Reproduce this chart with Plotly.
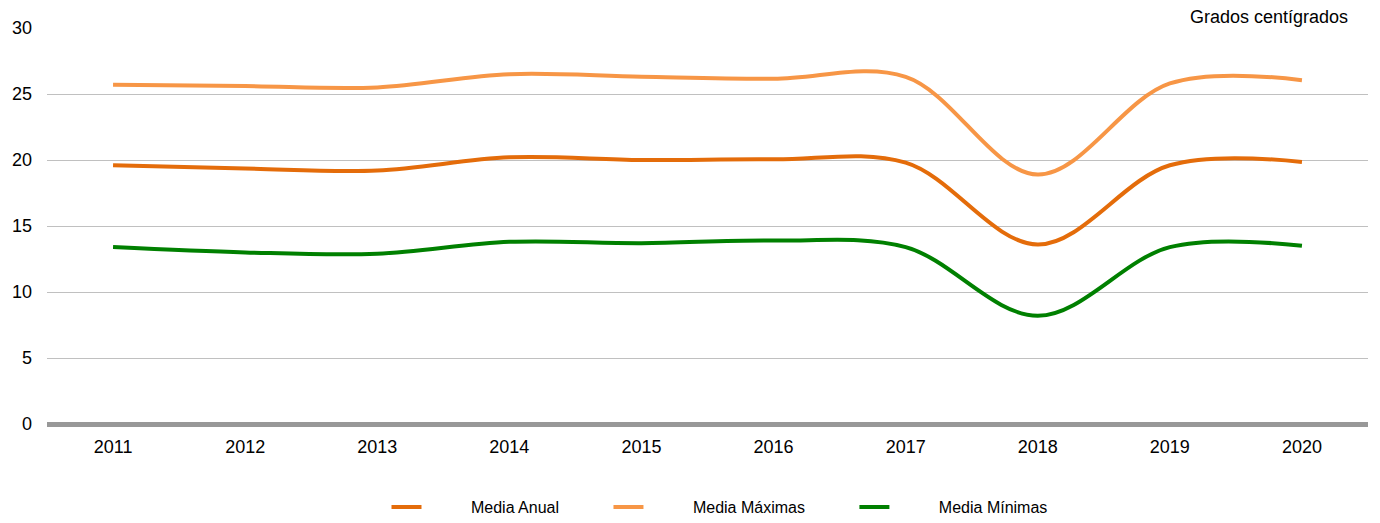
import plotly.graph_objects as go

years = ["2011", "2012", "2013", "2014", "2015", "2016", "2017", "2018", "2019", "2020"]
media_anual = [19.6, 19.35, 19.2, 20.2, 20.0, 20.05, 19.8, 13.6, 19.6, 19.85]
media_maximas = [25.7, 25.6, 25.5, 26.5, 26.3, 26.15, 26.3, 18.9, 25.8, 26.05]
media_minimas = [13.4, 13.0, 12.9, 13.8, 13.7, 13.9, 13.4, 8.2, 13.4, 13.5]

series = [
    ("Media Anual", media_anual, "#E46C0A"),
    ("Media Máximas", media_maximas, "#F79646"),
    ("Media Mínimas", media_minimas, "#008000"),
]

W, H = 1372, 515  # page body adds an 8px margin

NB = "\u00a0"
fig = go.Figure()
for name, vals, color in series:
    fig.add_trace(go.Scatter(
        x=years, y=vals, name=NB * 10 + name + NB * 10, mode="lines",
        line=dict(color=color, width=4, shape="spline", smoothing=1.0),
    ))

fig.update_layout(
    width=W, height=H,
    margin=dict(l=39, r=12, t=20, b=99, autoexpand=False),
    paper_bgcolor="white", plot_bgcolor="white",
    font=dict(family="Liberation Sans, Arial, sans-serif", size=18, color="#000000"),
    showlegend=True,
    legend=dict(
        orientation="h", x=0.257, xanchor="left",
        yref="container", y=1 - (507 - 8) / H, yanchor="middle",
        font=dict(size=16), traceorder="normal",
    ),
    xaxis=dict(
        type="category", range=[-0.5, 9.5], showgrid=False, zeroline=False,
        showline=False, ticks="", tickfont=dict(size=18), ticklabelstandoff=10,
    ),
    yaxis=dict(
        range=[0, 30], dtick=5, showgrid=True, gridcolor="#C0C0C0", gridwidth=1,
        zeroline=True, zerolinecolor="#989898", zerolinewidth=5,
        ticks="", tickfont=dict(size=18), showline=False, ticklabelstandoff=14,
    ),
    annotations=[dict(
        text="Grados centígrados", xref="paper", yref="paper",
        x=1.0, y=1.0, xanchor="right", yanchor="bottom", showarrow=False,
        font=dict(size=18), xshift=-18, yshift=-1,
    )],
)

fig.write_html("out.html")
